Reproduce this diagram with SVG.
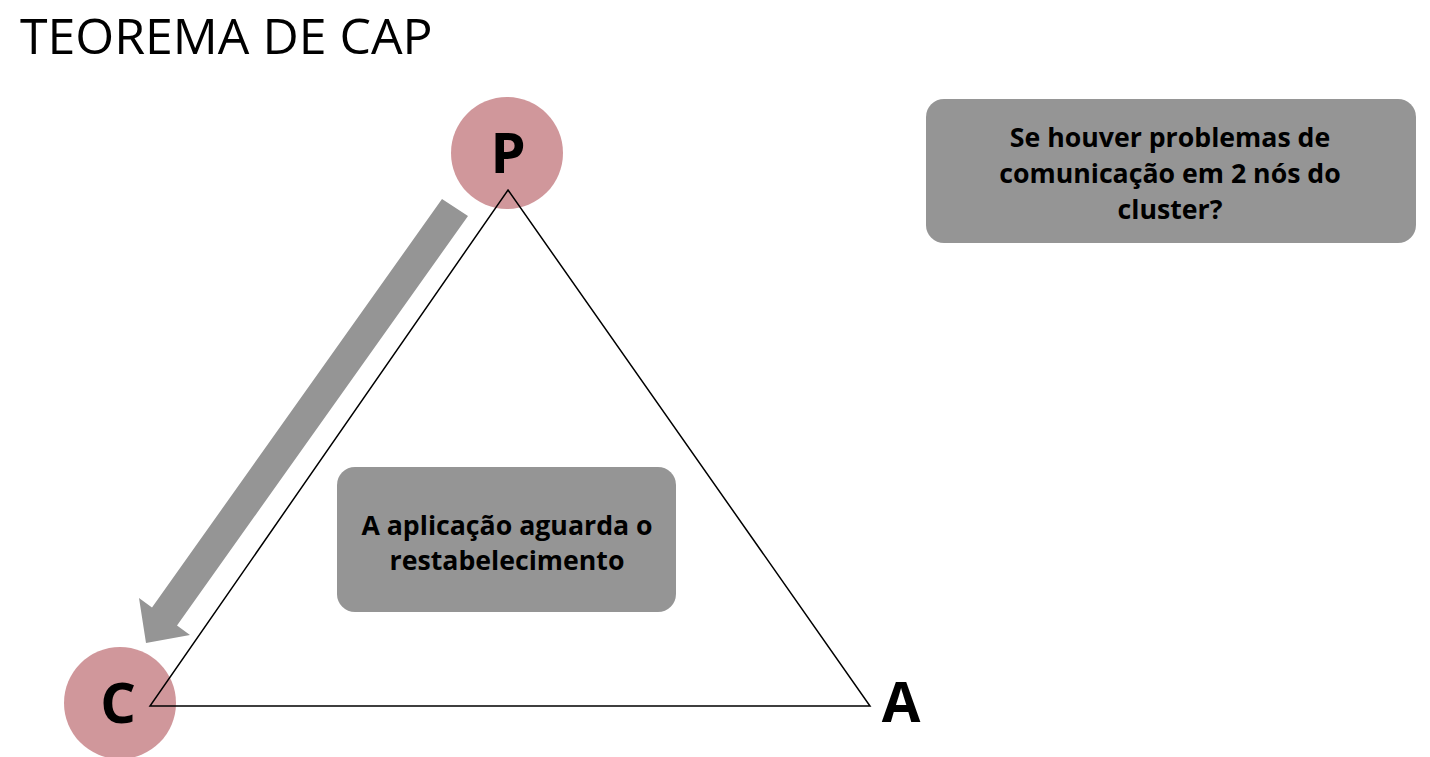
<svg xmlns="http://www.w3.org/2000/svg" width="1430" height="757" viewBox="0 0 1430 757">
  <style>
    .title { font-family: "Open Sans", "Liberation Sans", sans-serif; font-size: 50px; fill: #000; }
    .node { fill: #D0979B; }
    .letter { font-family: "Open Sans", "Liberation Sans", sans-serif; font-size: 56px; font-weight: bold; fill: #000; text-anchor: middle; }
    .box { fill: #959595; }
    .boxtext { font-family: "Open Sans", "Liberation Sans", sans-serif; font-size: 26.7px; font-weight: bold; fill: #000; text-anchor: middle; }
    .edge { fill: none; stroke: #000; stroke-width: 1.5; }
    .arrow { fill: #959595; }
  </style>
  <rect width="1430" height="757" fill="#fff"/>
  <text class="title" x="20" y="54">TEOREMA DE CAP</text>

  <g id="node-P">
    <circle class="node" cx="507" cy="153" r="56"/>
    <text class="letter" x="508" y="173">P</text>
  </g>
  <g id="node-C">
    <circle class="node" cx="120" cy="703" r="56"/>
    <text class="letter" x="118" y="723">C</text>
  </g>
  <g id="node-A">
    <text class="letter" x="901" y="722">A</text>
  </g>

  <g id="connectors">
    <polygon class="edge" points="508,190 870,706 150,706" stroke-linejoin="miter"/>
    <polygon class="arrow" points="442,199 468,216 177,625.5 190,635 146,643 139,598 152,607.5"/>
  </g>

  <g id="box-question">
    <rect class="box" x="926" y="99" width="490" height="144" rx="18" ry="18"/>
    <text class="boxtext" x="1170" y="147">Se houver problemas de</text>
    <text class="boxtext" x="1170" y="183">comunicação em 2 nós do</text>
    <text class="boxtext" x="1170" y="219">cluster?</text>
  </g>

  <g id="box-answer">
    <rect class="box" x="337" y="467" width="339" height="145" rx="18" ry="18"/>
    <text class="boxtext" x="507" y="535">A aplicação aguarda o</text>
    <text class="boxtext" x="507" y="570">restabelecimento</text>
  </g>
</svg>
